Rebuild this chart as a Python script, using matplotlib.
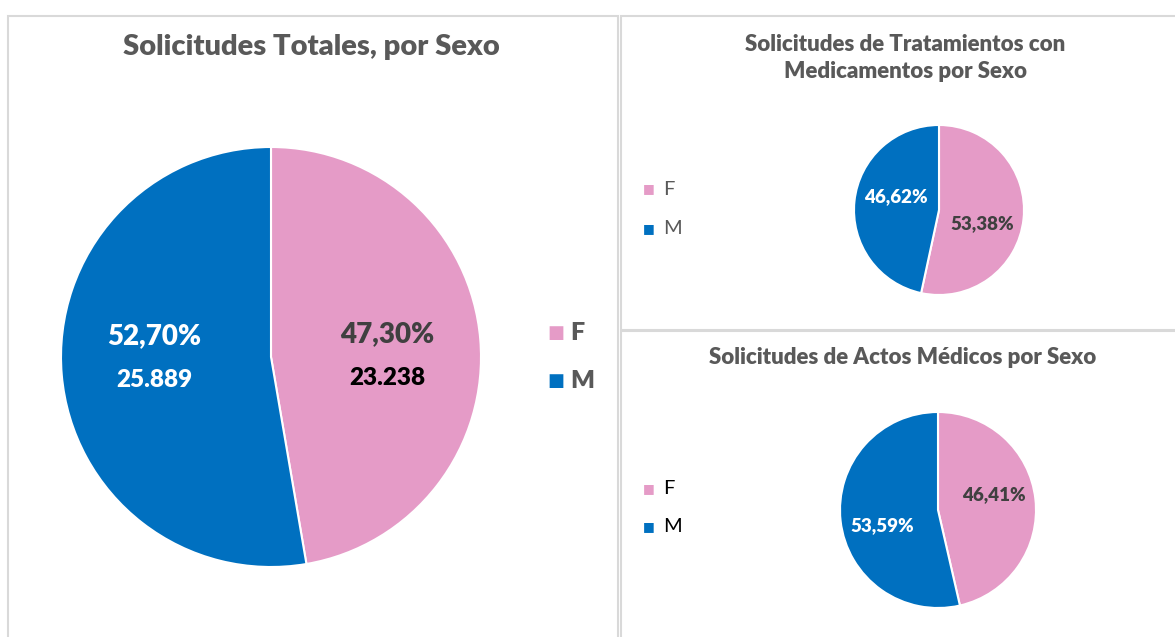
import matplotlib
matplotlib.use("Agg")
import numpy as np
import matplotlib.pyplot as plt
from matplotlib.patches import Rectangle

plt.rcParams['font.family'] = ['Lato', 'DejaVu Sans']

# data
sexos = ['F', 'M']
totales = [23238, 25889]
medicamentos_pct = [53.38, 46.62]
actos_pct = [46.41, 53.59]

titulo_total = 'Solicitudes Totales, por Sexo'
titulo_med = 'Solicitudes de Tratamientos con\nMedicamentos por Sexo'
titulo_actos = 'Solicitudes de Actos Médicos por Sexo'

rosa = '#E59BC7'
azul = '#0070C0'
gris = '#595959'
oscuro = '#404040'
borde = '#D9D9D9'
peso = 'heavy'

W, H = 1175, 637
fig = plt.figure(figsize=(W / 100, H / 100), dpi=100)


def px_axes(cx, cy, r):
    # axes that holds a pie of radius r (pixels) centred at (cx, cy) from top-left
    return fig.add_axes([(cx - r) / W, (H - cy - r) / H, 2 * r / W, 2 * r / H])


def fmt_pct(p):
    return ('%.2f%%' % p).replace('.', ',')


def fmt_n(n):
    return '{:,}'.format(n).replace(',', '.')


def draw_pie(ax, values, dist, rot):
    wedges, _ = ax.pie(values, colors=[rosa, azul], startangle=90, counterclock=False,
                       radius=1, wedgeprops=dict(edgecolor='white', linewidth=1.5))
    ax.set_xlim(-1, 1)
    ax.set_ylim(-1, 1)
    ax.set_aspect('equal')
    ax.axis('off')
    for w in wedges:
        w.set_clip_on(False)
    total = float(sum(values))
    out = []
    for w, v in zip(wedges, values):
        ang = np.deg2rad((w.theta1 + w.theta2) / 2 + rot)
        out.append((dist * np.cos(ang), dist * np.sin(ang), 100 * v / total))
    return out


def legend(x, y0, step, size, msize, color, weight):
    for i, (s, c) in enumerate(zip(sexos, [rosa, azul])):
        yy = 1 - (y0 + step * i) / H
        fig.text(x / W, yy, '\u25A0', color=c, fontsize=msize, ha='center', va='center',
                 family='DejaVu Sans')
        fig.text((x + 14) / W, yy, s, color=color, fontsize=size, fontweight=weight,
                 va='center')


# panel borders
for (x0, y0, x1, y1) in [(8, 16, 618, 660), (621, 16, 1190, 330), (621, 331, 1190, 660)]:
    fig.patches.append(Rectangle((x0 / W, (H - y1) / H), (x1 - x0) / W, (y1 - y0) / H,
                                 transform=fig.transFigure, fill=False,
                                 edgecolor=borde, linewidth=1.5))

# main pie
ax1 = px_axes(271, 357, 210)
pos = draw_pie(ax1, totales, 0.555, -4.5)
for (x, y, p), n, pc, nc in zip(pos, totales, [oscuro, 'white'], ['black', 'white']):
    ax1.text(x, y + 0.105, fmt_pct(p), color=pc, fontsize=20, fontweight=peso,
             ha='center', va='center')
    ax1.text(x, y - 0.105, fmt_n(n), color=nc, fontsize=17.5, fontweight=peso,
             ha='center', va='center')
fig.text(311 / W, 1 - 47 / H, titulo_total, color=gris, fontsize=21, fontweight=peso,
         ha='center', va='center')
legend(556, 333, 48, 18, 13, gris, peso)

# medicamentos pie
ax2 = px_axes(939, 210, 85)
pos = draw_pie(ax2, medicamentos_pct, 0.53, -11)
for (x, y, p), pc in zip(pos, [oscuro, 'white']):
    ax2.text(x, y, fmt_pct(p), color=pc, fontsize=13.5, fontweight=peso,
             ha='center', va='center')
fig.text(905 / W, 1 - 58 / H, titulo_med, color=gris, fontsize=16, fontweight=peso,
         ha='center', va='center', linespacing=1.3)
legend(649, 189, 40, 14.5, 9, gris, 'normal')

# actos medicos pie
ax3 = px_axes(938, 510, 98)
pos = draw_pie(ax3, actos_pct, 0.59, 9)
for (x, y, p), pc in zip(pos, [oscuro, 'white']):
    ax3.text(x, y, fmt_pct(p), color=pc, fontsize=13.5, fontweight=peso,
             ha='center', va='center')
fig.text(903 / W, 1 - 358 / H, titulo_actos, color=gris, fontsize=16, fontweight=peso,
         ha='center', va='center')
legend(649, 489, 38, 14.5, 9, 'black', 'normal')

fig.savefig('out.png', dpi=100)
